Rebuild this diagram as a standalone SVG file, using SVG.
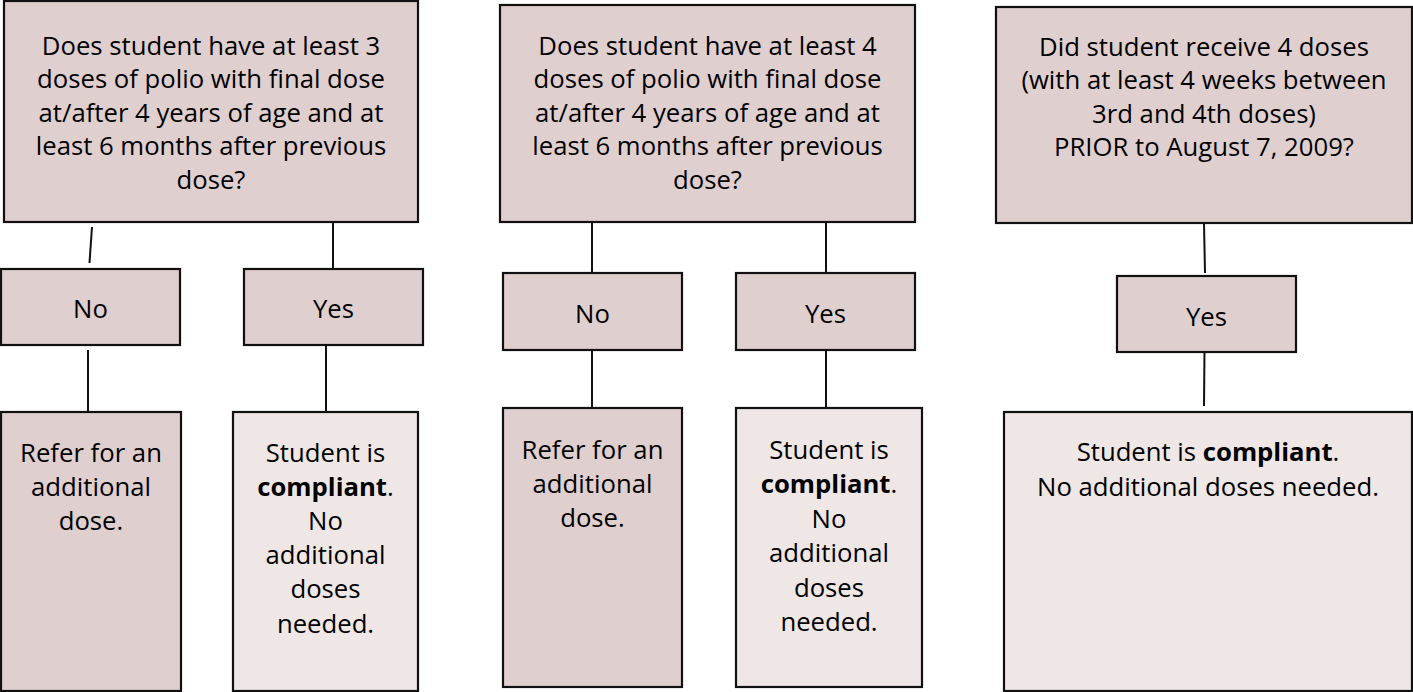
<svg xmlns="http://www.w3.org/2000/svg" width="1413" height="692" viewBox="0 0 1413 692">
<style>
.q{fill:#E0CFCF;stroke:#111;stroke-width:2.2}
.a{fill:#E0CFCF;stroke:#111;stroke-width:2.2}
.r{fill:#E0CFCF;stroke:#111;stroke-width:2.2}
.s{fill:#EFE6E6;stroke:#111;stroke-width:2.2}
.t{font-family:"Open Sans","Noto Sans",sans-serif;font-size:25.7px;fill:#000;text-anchor:middle}
.b{font-weight:bold}
.c line{stroke:#111;stroke-width:2}
</style>
<rect width="1413" height="692" fill="#fff"/>
<g class="c" id="connectors">
<line x1="92" y1="227" x2="89.5" y2="263"/>
<line x1="333" y1="222" x2="333" y2="269"/>
<line x1="88" y1="350" x2="88" y2="412"/>
<line x1="326" y1="345" x2="326" y2="412"/>
<line x1="592" y1="220" x2="592" y2="273"/>
<line x1="826" y1="222" x2="826" y2="273"/>
<line x1="592" y1="350" x2="592" y2="408"/>
<line x1="826" y1="350" x2="826" y2="408"/>
<line x1="1204" y1="223" x2="1205" y2="273"/>
<line x1="1204.5" y1="350" x2="1204" y2="406"/>
</g>
<g id="q1">
<rect class="q" x="4" y="1" width="414" height="221"/>
<text class="t"><tspan x="211" y="55">Does student have at least 3</tspan><tspan x="211" y="88">doses of polio with final dose</tspan><tspan x="211" y="122">at/after 4 years of age and at</tspan><tspan x="211" y="155">least 6 months after previous</tspan><tspan x="211" y="189">dose?</tspan></text>
</g>
<g id="no1">
<rect class="a" x="1" y="269" width="179" height="76"/>
<text class="t" x="90.5" y="318">No</text>
</g>
<g id="yes1">
<rect class="a" x="244" y="269" width="179" height="76"/>
<text class="t" x="333.5" y="318">Yes</text>
</g>
<g id="refer1">
<rect class="r" x="1" y="412" width="180" height="279"/>
<text class="t"><tspan x="91" y="462">Refer for an</tspan><tspan x="91" y="496">additional</tspan><tspan x="91" y="530">dose.</tspan></text>
</g>
<g id="comp1">
<rect class="s" x="233" y="412" width="185" height="279"/>
<text class="t"><tspan x="325.5" y="462">Student is</tspan><tspan x="325.5" y="496"><tspan class="b">compliant</tspan>.</tspan><tspan x="325.5" y="530">No</tspan><tspan x="325.5" y="564">additional</tspan><tspan x="325.5" y="598">doses</tspan><tspan x="325.5" y="633">needed.</tspan></text>
</g>
<g id="q2">
<rect class="q" x="500" y="5" width="415" height="217"/>
<text class="t"><tspan x="707.5" y="55">Does student have at least 4</tspan><tspan x="707.5" y="88">doses of polio with final dose</tspan><tspan x="707.5" y="122">at/after 4 years of age and at</tspan><tspan x="707.5" y="155">least 6 months after previous</tspan><tspan x="707.5" y="189">dose?</tspan></text>
</g>
<g id="no2">
<rect class="a" x="503" y="273" width="179" height="77"/>
<text class="t" x="592.5" y="323">No</text>
</g>
<g id="yes2">
<rect class="a" x="736" y="273" width="179" height="77"/>
<text class="t" x="825.5" y="323">Yes</text>
</g>
<g id="refer2">
<rect class="r" x="503" y="408" width="179" height="279"/>
<text class="t"><tspan x="592.5" y="459">Refer for an</tspan><tspan x="592.5" y="493">additional</tspan><tspan x="592.5" y="527">dose.</tspan></text>
</g>
<g id="comp2">
<rect class="s" x="736" y="408" width="186" height="279"/>
<text class="t"><tspan x="829" y="459">Student is</tspan><tspan x="829" y="493"><tspan class="b">compliant</tspan>.</tspan><tspan x="829" y="528">No</tspan><tspan x="829" y="562">additional</tspan><tspan x="829" y="597">doses</tspan><tspan x="829" y="631">needed.</tspan></text>
</g>
<g id="q3">
<rect class="q" x="996" y="7" width="416" height="216"/>
<text class="t"><tspan x="1204" y="56">Did student receive 4 doses</tspan><tspan x="1204" y="89">(with at least 4 weeks between</tspan><tspan x="1204" y="123">3rd and 4th doses)</tspan><tspan x="1204" y="156">PRIOR to August 7, 2009?</tspan></text>
</g>
<g id="yes3">
<rect class="a" x="1117" y="276" width="179" height="76"/>
<text class="t" x="1206.5" y="326">Yes</text>
</g>
<g id="comp3">
<rect class="s" x="1004" y="412" width="408" height="279"/>
<text class="t"><tspan x="1208" y="461">Student is <tspan class="b">compliant</tspan>.</tspan><tspan x="1208" y="496">No additional doses needed.</tspan></text>
</g>
</svg>
